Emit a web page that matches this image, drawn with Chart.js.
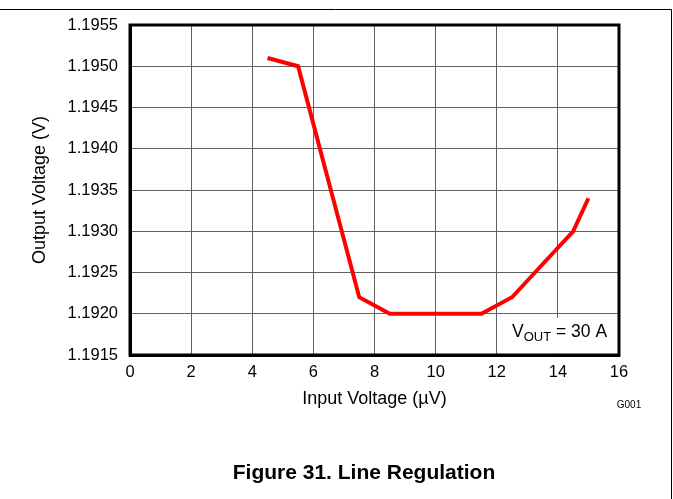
<!DOCTYPE html>
<html>
<head>
<meta charset="utf-8">
<script src="https://cdn.jsdelivr.net/npm/chart.js@4.4.1/dist/chart.umd.min.js"></script>
<style>
html,body{margin:0;padding:0;background:#fff;}
canvas{display:block;}
</style>
</head>
<body>
<canvas id="c" width="673" height="499"></canvas>
<script>
// Data
const inputVoltage = [4.5, 5.5, 6.5, 7.5, 8.5, 9.5, 10.5, 11.5, 12.5, 13.5, 14.5, 15];
const outputVoltage = [1.1951, 1.1950, 1.1936, 1.1922, 1.1920, 1.1920, 1.1920, 1.1920, 1.1922, 1.1926, 1.1930, 1.1934];
const xTicks = [0, 2, 4, 6, 8, 10, 12, 14, 16];
const yTicks = [1.1915, 1.1920, 1.1925, 1.1930, 1.1935, 1.1940, 1.1945, 1.1950, 1.1955];
const xTitle = 'Input Voltage (µV)';
const yTitle = 'Output Voltage (V)';
const caption = 'Figure 31. Line Regulation';
const graphId = 'G001';
const annoMain = 'V';
const annoSub = 'OUT';
const annoRest = ' = 30 A';

const FONT = "'Liberation Sans', Arial, sans-serif";

const points = inputVoltage.map((x, i) => ({x: x, y: outputVoltage[i]}));

const decor = {
  id: 'decor',
  beforeDatasetsDraw(chart) {
    const ctx = chart.ctx;
    const a = chart.chartArea;
    const xs = chart.scales.x, ys = chart.scales.y;
    // white box behind annotation (hides grid)
    const bx = xs.getPixelForValue(12) + 1.5;
    const by = ys.getPixelForValue(1.19195);
    ctx.save();
    ctx.fillStyle = '#fff';
    ctx.fillRect(bx, by, a.right - 1.5 - bx, a.bottom - 1.5 - by);
    ctx.restore();
  },
  afterDraw(chart) {
    const ctx = chart.ctx;
    const a = chart.chartArea;
    ctx.save();
    // plot frame
    ctx.strokeStyle = '#000';
    ctx.lineWidth = 3;
    ctx.strokeRect(a.left, a.top, a.right - a.left, a.bottom - a.top);
    // page frame
    ctx.lineWidth = 1;
    ctx.beginPath();
    ctx.moveTo(0, 9.5);
    ctx.lineTo(671.5, 9.5);
    ctx.lineTo(671.5, 499);
    ctx.stroke();
    // annotation
    ctx.fillStyle = '#000';
    ctx.textBaseline = 'alphabetic';
    ctx.textAlign = 'left';
    let x = 512, y = 337;
    ctx.font = '17.5px ' + FONT;
    ctx.fillText(annoMain, x, y);
    x += ctx.measureText(annoMain).width;
    ctx.font = '13px ' + FONT;
    ctx.fillText(annoSub, x, y + 4);
    x += ctx.measureText(annoSub).width;
    ctx.font = '17.5px ' + FONT;
    ctx.fillText(annoRest, x, y);
    // graph id
    ctx.font = '10px ' + FONT;
    ctx.textAlign = 'center';
    ctx.textBaseline = 'middle';
    ctx.fillText(graphId, 629, 405);
    // caption
    ctx.font = 'bold 21px ' + FONT;
    ctx.fillText(caption, 364, 473);
    ctx.restore();
  }
};

new Chart(document.getElementById('c'), {
  type: 'scatter',
  data: {
    datasets: [{
      data: points,
      showLine: true,
      borderColor: '#ff0000',
      backgroundColor: '#ff0000',
      borderWidth: 4,
      pointRadius: 0,
      tension: 0,
      borderJoinStyle: 'miter',
      borderCapStyle: 'butt'
    }]
  },
  options: {
    responsive: false,
    devicePixelRatio: 1,
    animation: false,
    layout: {padding: {left: 0, top: 25, right: 54, bottom: 0}},
    plugins: {legend: {display: false}, tooltip: {enabled: false}},
    scales: {
      x: {
        type: 'linear',
        min: 0, max: 16,
        afterFit(s) { s.height = 144; },
        afterBuildTicks(s) { s.ticks = xTicks.map(v => ({value: v})); },
        grid: {color: '#606060', lineWidth: 1, drawTicks: false},
        border: {display: true, color: '#000', width: 3},
        ticks: {color: '#000', font: {family: FONT, size: 16.5}, padding: 8, maxRotation: 0},
        title: {display: true, text: xTitle, color: '#000', font: {family: FONT, size: 18}, padding: {top: 0, bottom: 89}}
      },
      y: {
        type: 'linear',
        min: 1.1915, max: 1.1955,
        afterFit(s) { s.width = 130; },
        afterBuildTicks(s) { s.ticks = yTicks.map(v => ({value: v})); },
        grid: {color: '#606060', lineWidth: 1, drawTicks: false},
        border: {display: true, color: '#000', width: 3},
        ticks: {color: '#000', font: {family: FONT, size: 16.5}, padding: 12,
          callback: (v) => Number(v).toFixed(4)},
        title: {display: true, text: yTitle, color: '#000', font: {family: FONT, size: 18}, padding: {top: 29, bottom: 0}}
      }
    }
  },
  plugins: [decor]
});
</script>
</body>
</html>
